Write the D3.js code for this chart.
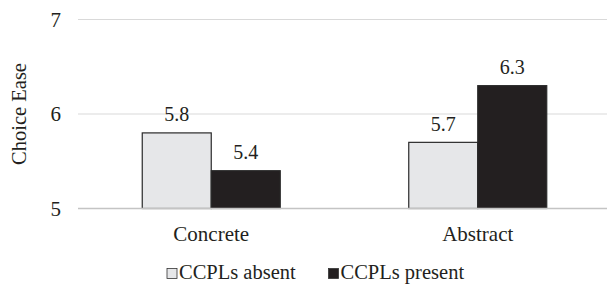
<!DOCTYPE html>
<html><head><meta charset="utf-8">
<script src="https://cdn.jsdelivr.net/npm/d3@7"></script>
</head><body style="margin:0;background:#fff"><svg id="c" width="607" height="284" style="display:block"></svg>
<script>
const categories = ["Concrete", "Abstract"];
const seriesNames = ["CCPLs absent", "CCPLs present"];
const absentValues = [5.8, 5.7];
const presentValues = [5.4, 6.3];
const yTicks = [5, 6, 7];
const colors = ["#e6e7e9", "#231f20"];
const textColor = "#231f20";
const FONT = "'Liberation Serif', 'Times New Roman', Times, serif";

const svg = d3.select("#c");
const W = 607;
const x = d3.scaleBand().domain(categories).range([78, 611]);
const y = d3.scaleLinear().domain([5, 7]).range([208.5, 19.5]);
const barW = 69;

function txt(sel, size) {
  return sel.style("font-family", FONT).style("font-size", size + "px").attr("fill", textColor);
}

// gridlines
svg.append("g").selectAll("line").data(yTicks.filter(d => d !== 5)).join("line")
  .attr("x1", 78).attr("x2", W).attr("y1", d => y(d)).attr("y2", d => y(d))
  .attr("stroke", "#d9d9d9").attr("stroke-width", 1);

// y tick labels
txt(svg.append("g").selectAll("text").data(yTicks).join("text")
  .attr("x", 61).attr("y", d => y(d)).attr("dy", "0.35em").attr("text-anchor", "end"), 21).text(d => d);

// y title
txt(svg.append("text").attr("transform", `translate(26,${(y(5)+y(7))/2}) rotate(-90)`)
  .attr("text-anchor", "middle"), 20.5).text("Choice Ease");

const data = categories.map((c, i) => ({cat: c, vals: [absentValues[i], presentValues[i]]}));
const groups = svg.append("g").selectAll("g").data(data).join("g")
  .attr("transform", d => `translate(${x(d.cat) + x.bandwidth()/2 - barW},0)`);
groups.selectAll("rect").data(d => d.vals.map((v, j) => ({v, j}))).join("rect")
  .attr("x", d => d.j * barW).attr("y", d => y(d.v)).attr("width", barW)
  .attr("height", d => y(5) - y(d.v))
  .attr("fill", d => colors[d.j]).attr("stroke", "#2a2a2a").attr("stroke-width", 1.2);
txt(groups.selectAll("text").data(d => d.vals.map((v, j) => ({v, j}))).join("text")
  .attr("x", d => d.j * barW + barW/2).attr("y", d => y(d.v) - 11.5)
  .attr("text-anchor", "middle"), 20).text(d => d3.format(".1f")(d.v));

// baseline axis
svg.append("line").attr("x1", 78).attr("x2", W).attr("y1", y(5)).attr("y2", y(5))
  .attr("stroke", "#c4c4c4").attr("stroke-width", 1.6);

// category labels
txt(svg.append("g").selectAll("text").data(categories).join("text")
  .attr("x", d => x(d) + x.bandwidth()/2).attr("y", 240.5).attr("text-anchor", "middle"), 21).text(d => d);

// legend
const legX = [167, 328.5];
const leg = svg.append("g").selectAll("g").data(seriesNames).join("g")
  .attr("transform", (d, i) => `translate(${legX[i]},279)`);
leg.append("rect").attr("x", 0).attr("y", -10.5).attr("width", 10).attr("height", 10)
  .attr("fill", (d, i) => colors[i]).attr("stroke", "#333").attr("stroke-width", 0.8);
txt(leg.append("text").attr("x", 12).attr("y", 0), 20.5).text(d => d);
</script></body></html>
